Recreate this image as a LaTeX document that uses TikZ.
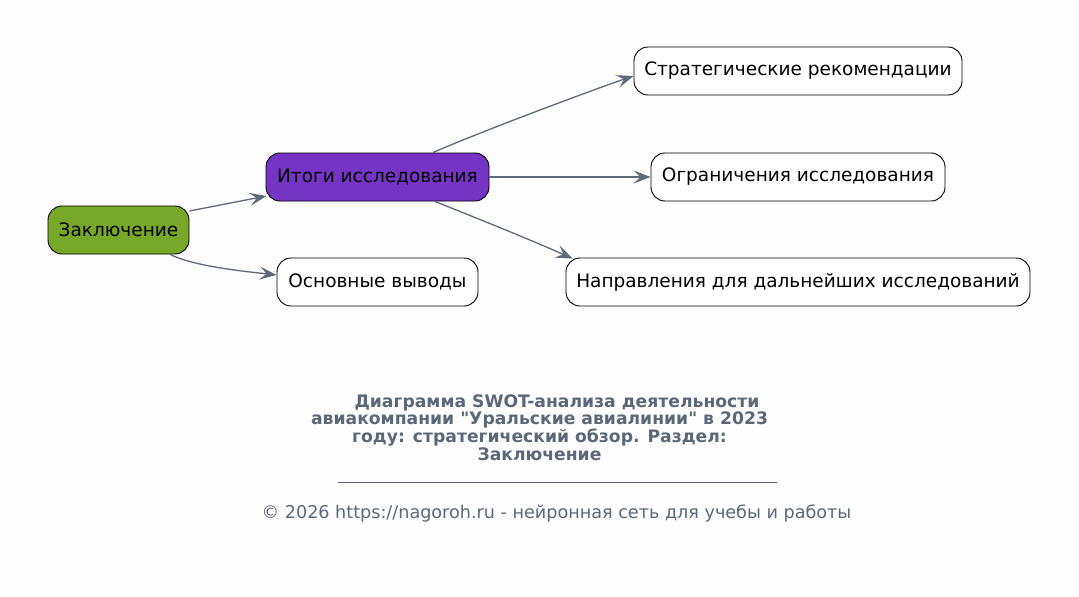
\documentclass[tikz,border=0pt]{standalone}
\usepackage{fontspec}
\setmainfont{DejaVu Sans}[Ligatures=TeXOff]
\usetikzlibrary{arrows.meta}
\definecolor{bgc}{RGB}{253,253,253}
\definecolor{edgec}{RGB}{94,106,121}
\definecolor{greenc}{RGB}{119,168,42}
\definecolor{purplec}{RGB}{118,52,197}
\definecolor{titlec}{RGB}{91,104,120}
\tikzset{
  box/.style={draw=black, line width=0.9pt, rounded corners=14pt, inner xsep=0pt, inner ysep=0pt,
    font=\fontsize{18.5}{22}\selectfont, text=black},
  conn/.style={draw=edgec, line width=1.3pt, -{Stealth[length=17pt,width=13pt,inset=7pt]}},
}
\begin{document}
\begin{tikzpicture}[x=1pt,y=-1pt]
\fill[bgc] (0,0) rectangle (1079,597);
\useasboundingbox (0,0) rectangle (1079,597);
\node[box, fill=greenc, minimum width=141pt, minimum height=48pt] (z) at (118.5,230) {Заключение};
\node[box, fill=purplec, minimum width=223pt, minimum height=48pt] (it) at (377.5,177) {Итоги исследования};
\node[box, fill=white, minimum width=201pt, minimum height=48pt] (os) at (377.5,282) {Основные выводы};
\node[box, fill=white, minimum width=328pt, minimum height=48pt] (st) at (798,71) {Стратегические рекомендации};
\node[box, fill=white, minimum width=294pt, minimum height=48pt] (og) at (798,177) {Ограничения исследования};
\node[box, fill=white, minimum width=464pt, minimum height=48pt] (na) at (798,282) {Направления для дальнейших исследований};

\draw[conn] ([yshift=19pt]z.east) -- ([xshift=1pt,yshift=-19pt]it.west);
\draw[conn] ([xshift=51.5pt]z.south) .. controls +(25,12) and +(-35,-4) .. ([yshift=7pt]os.west);
\draw[conn] ([xshift=55.5pt]it.north) .. controls +(50,-22) and +(-30,10) .. ([yshift=-5pt]st.west);
\draw[conn] (it.east) -- (og.west);
\draw[conn] ([xshift=57.5pt]it.south) .. controls +(40,16) and +(-40,-18) .. ([xshift=7pt,yshift=-1pt]na.north west);

\node[text=titlec, font=\bfseries\fontsize{17.2}{17.2}\selectfont, align=center, inner sep=0pt] (title) at (539.5,427.5)
  {\hspace*{35pt}Диаграмма SWOT-анализа деятельности\\авиакомпании "Уральские авиалинии" в 2023\\году: стратегический обзор. Раздел: \\Заключение};
\coordinate (la) at (338,482);
\coordinate (lb) at (777,482);
\draw[titlec, line width=0.8pt] (la) -- (lb);
\node[text=titlec, font=\fontsize{17.6}{20}\selectfont, inner sep=0pt] (foot) at (556.5,513) {© 2026 https://nagoroh.ru - нейронная сеть для учебы и работы};
\end{tikzpicture}
\end{document}
